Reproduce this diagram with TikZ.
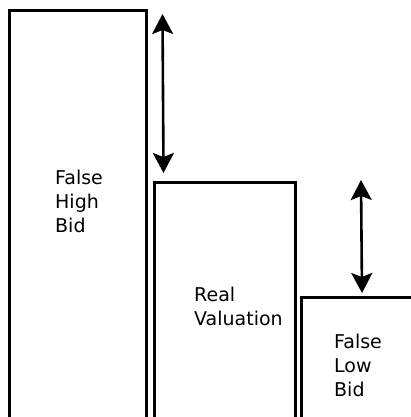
\documentclass[tikz,border=0pt]{standalone}
\usepackage{fontspec}
\setmainfont{DejaVu Sans}
\usetikzlibrary{arrows.meta}
\begin{document}
\begin{tikzpicture}[x=1pt,y=-1pt,
  bar/.style={draw=black, line width=2.6pt},
  label/.style={anchor=base west, inner sep=0pt, align=left,
    font=\fontsize{19}{24}\selectfont},
  gap/.style={line width=2.6pt, {Stealth[length=20pt,width=21pt,inset=4pt]}-{Stealth[length=20pt,width=21pt,inset=4pt]}}]
  \useasboundingbox (0,0) rectangle (411,417);
  \begin{scope}
    \clip (0,0) rectangle (411,417);
    % the three bars, cut by the bottom and right edges
    \draw[bar] (9.5,10.5) rectangle (146.5,418);
    \draw[bar] (154.7,182.5) rectangle (295.5,418);
    \draw[bar] (301.5,297.5) rectangle (425,418);
  \end{scope}
  % bar captions (anchored on the baseline of their last line)
  \node[label] (hightext) at (55,232) {False\\High\\Bid};
  \node[label] (realtext) at (194,325) {Real\\Valuation};
  \node[label] (lowtext) at (334,396) {False\\Low\\Bid};
  % differences between the bids and the real valuation
  \coordinate (a1) at (162.5,14);
  \coordinate (b1) at (163.5,173);
  \coordinate (a2) at (361,180);
  \coordinate (b2) at (362,293);
  \draw[gap] (a1) -- (b1);
  \draw[gap] (a2) -- (b2);
\end{tikzpicture}
\end{document}
